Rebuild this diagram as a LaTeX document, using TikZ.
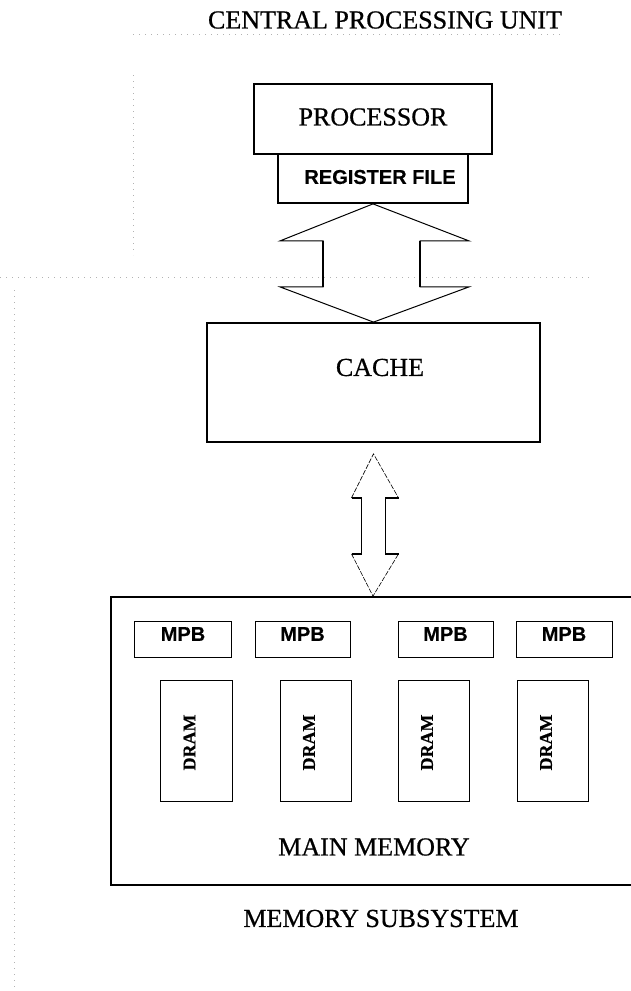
\documentclass[tikz,border=0pt]{standalone}
\usepackage{fontspec}
\setmainfont{Liberation Serif}[FakeBold=0.6]
\newfontfamily\hvb{Liberation Sans}[BoldFont={Liberation Sans Bold}, BoldFeatures={FakeBold=0.4}]
\usetikzlibrary{calc}
\tikzset{
  bigbox/.style={draw, line width=1.8pt, inner sep=0pt},
  smallbox/.style={draw, line width=0.8pt, inner sep=0pt},
  serif/.style={font=\fontsize{26}{28}\selectfont, inner sep=0pt},
  sanslab/.style={font=\hvb\bfseries\fontsize{20}{22}\selectfont, inner sep=0pt},
  dramlab/.style={font=\bfseries\fontsize{18}{20}\selectfont, inner sep=0pt, rotate=90},
  faint/.style={draw=black!30, line width=0.6pt, dash pattern=on 1pt off 5pt},
  bus/.style={line width=1pt, line join=miter},
  thinhead/.style={line width=0.6pt, dash pattern=on 5pt off 1.5pt}
}
\begin{document}
\begin{tikzpicture}[x=1pt, y=-1pt]
\useasboundingbox (0,0) rectangle (631,991);
\clip (0,0) rectangle (631,991);
\fill[white] (0,0) rectangle (631,991);

% faint scan guide lines
\draw[faint] (133,34) -- (563,34);
\draw[faint] (0,277) -- (593,277);
\draw[faint] (14,290) -- (14,990);
\draw[faint] (133,75) -- (133,255);

% title
\node[serif] (title) at (385,20) {CENTRAL PROCESSING UNIT};

% processor and register file
\node[bigbox, minimum width=238pt, minimum height=70pt] (proc) at (373,119) {};
\node[serif] (proctxt) at (373,117) {PROCESSOR};
\node[bigbox, minimum width=190pt, minimum height=49pt] (reg) at (373,178.5) {};
\node[sanslab] (regtxt) at (380,177) {REGISTER FILE};

% cache
\node[bigbox, minimum width=333pt, minimum height=119pt] (cache) at (373.5,382.5) {};
\node[serif] (cachetxt) at (380,367.5) {CACHE};

% main memory (its right side runs past the edge of the picture)
\node[bigbox, minimum width=524pt, minimum height=288pt] (mem) at (373,741) {};
\node[serif] (memtxt) at (374,847) {MAIN MEMORY};
\node[serif] (subtxt) at (381,918.5) {MEMORY SUBSYSTEM};

% MPB boxes
\node[smallbox, minimum width=97pt, minimum height=36pt] (mpb1) at (183,639) {};
\node[smallbox, minimum width=95pt, minimum height=36pt] (mpb2) at (302.5,639) {};
\node[smallbox, minimum width=95pt, minimum height=36pt] (mpb3) at (445.5,639) {};
\node[smallbox, minimum width=96pt, minimum height=36pt] (mpb4) at (564,639) {};
\foreach \i in {1,...,4} {
  \node[sanslab] (mpbt\i) at ($(mpb\i.center)+(0,-5)$) {MPB};
}

% DRAM boxes
\node[smallbox, minimum width=72pt, minimum height=121pt] (dram1) at (196,740.5) {};
\node[smallbox, minimum width=71pt, minimum height=121pt] (dram2) at (315.5,740.5) {};
\node[smallbox, minimum width=71pt, minimum height=121pt] (dram3) at (433.5,740.5) {};
\node[smallbox, minimum width=71pt, minimum height=121pt] (dram4) at (552.5,740.5) {};
\foreach \i in {1,...,4} {
  \node[dramlab] (dramt\i) at ($(dram\i.center)+(-6.5,2)$) {DRAM};
}

% bus between register file and cache
\coordinate (t1) at (reg.south);
\coordinate (b1) at (cache.north);
\draw[bus] (t1) -- ($(t1)+(96,37)$) -- ($(t1)+(47,37)$) -- ($(t1)+(47,83)$)
  -- ($(t1)+(96,83)$) -- (b1) -- ($(t1)+(-93,83)$) -- ($(t1)+(-50,83)$)
  -- ($(t1)+(-50,37)$) -- ($(t1)+(-93,37)$) -- cycle;
\draw[line width=1.6pt] ($(t1)+(47,37)$) -- ($(t1)+(47,83)$);
\draw[line width=1.6pt] ($(t1)+(-50,37)$) -- ($(t1)+(-50,83)$);

% bus between cache and main memory
\coordinate (t2) at ($(cache.south)+(0,11)$);
\coordinate (b2) at (mem.north);
\draw[thinhead] ($(t2)+(-22,44)$) -- (t2) -- ($(t2)+(25,44)$);
\draw[thinhead] ($(t2)+(-22,100)$) -- (b2) -- ($(t2)+(25,100)$);
\draw[line width=1.5pt] ($(t2)+(-22,44)$) -- ($(t2)+(-12,44)$) -- ($(t2)+(-12,100)$) -- ($(t2)+(-22,100)$);
\draw[line width=1.5pt] ($(t2)+(25,44)$) -- ($(t2)+(12,44)$) -- ($(t2)+(12,100)$) -- ($(t2)+(25,100)$);
\end{tikzpicture}
\end{document}
